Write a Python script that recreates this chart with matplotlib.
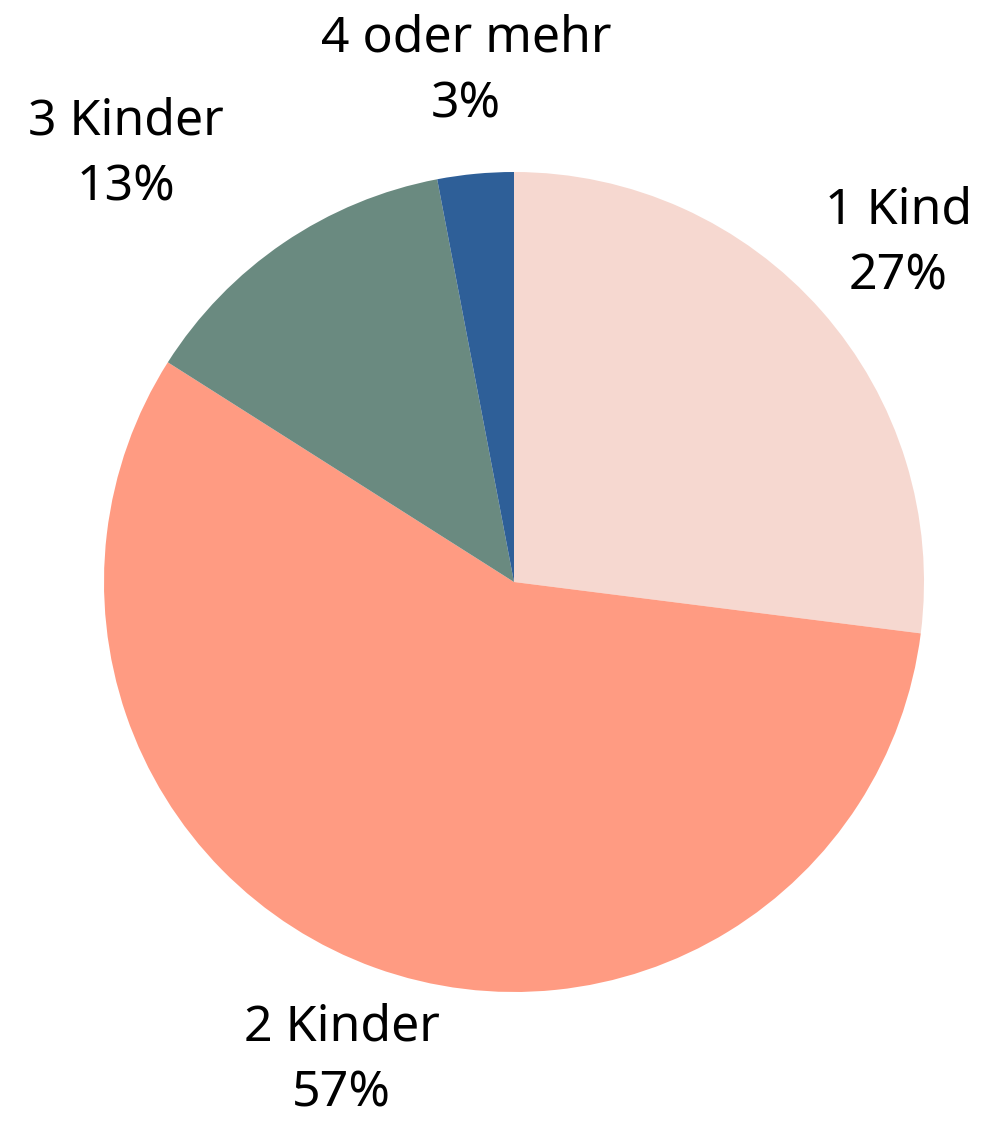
import numpy as np
import matplotlib.pyplot as plt

# Anteil der Familien nach Kinderzahl
categories = ['1 Kind', '2 Kinder', '3 Kinder', '4 oder mehr']
shares = [27, 57, 13, 3]
colors = ['#F6D8D0', '#FF9B82', '#6A8A80', '#2E5F98']
label_dist = [1.25, 1.24, 1.26, 1.25]
label_ha = ['center', 'center', 'right', 'center']

plt.rcParams['font.family'] = ['Noto Sans', 'DejaVu Sans']

fig = plt.figure(figsize=(9.81, 11.25), dpi=100)
ax = fig.add_axes([0, 0, 1, 1])

wedges, _ = ax.pie(shares, colors=colors, startangle=90, counterclock=False,
                   radius=1, wedgeprops=dict(linewidth=0))

for w, name, pct, d, ha in zip(wedges, categories, shares, label_dist, label_ha):
    mid = np.deg2rad((w.theta1 + w.theta2) / 2)
    ax.text(d * np.cos(mid), d * np.sin(mid), f'{name}\n{pct}%',
            ha=ha, va='center', multialignment='center', fontsize=36,
            linespacing=1.42, color='black')

# pixel scale: radius 410 px, center at (514, 582) from top-left
r = 410
ax.set_xlim(-514 / r, (981 - 514) / r)
ax.set_ylim(-(1125 - 582) / r, 582 / r)
ax.set_aspect('auto')
ax.axis('off')

fig.savefig('out.png', dpi=100)
